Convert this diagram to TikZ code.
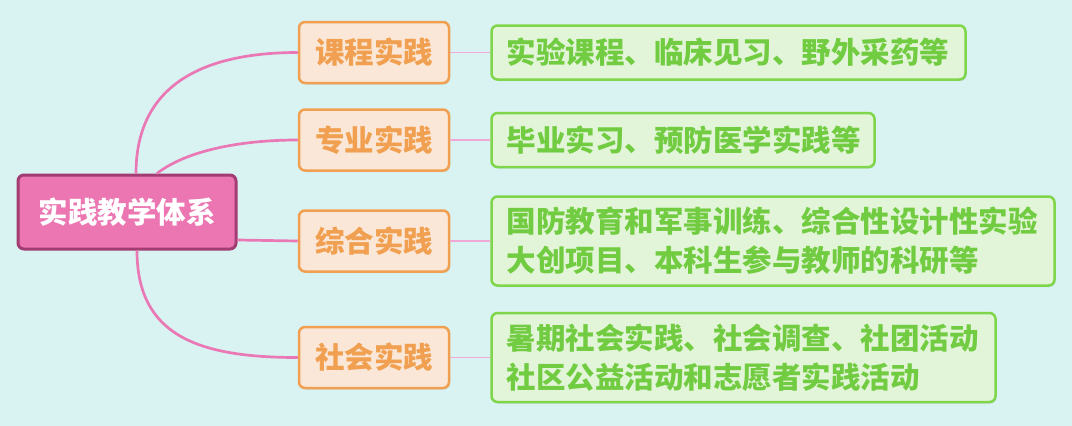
\documentclass[tikz,border=0pt]{standalone}
\usepackage{fontspec}
\newfontfamily\cjk{Noto Sans CJK SC}
\usepackage{tikz}
\usetikzlibrary{positioning,shadows}
\definecolor{bgcol}{HTML}{D8F3F2}
\definecolor{rootfill}{HTML}{EC76B1}
\definecolor{rootline}{HTML}{A23C72}
\definecolor{brfill}{HTML}{FBE7D7}
\definecolor{brline}{HTML}{F0A050}
\definecolor{lffill}{HTML}{E3F5D8}
\definecolor{lfline}{HTML}{7FD64A}
\definecolor{lftext}{HTML}{72CC42}
\definecolor{linkcol}{HTML}{EA78B5}
\definecolor{twigcol}{HTML}{F2A8D4}

\begin{document}
\begin{tikzpicture}[x=1pt,y=-1pt,font=\cjk\bfseries\fontsize{29.5}{39}\selectfont]
    \tikzstyle{topic}=[draw=rootline, fill=rootfill, line width=3pt, rounded corners=6pt, text=white, minimum width=218pt, minimum height=74pt]
    \tikzstyle{sub}=[draw=brline, fill=brfill, line width=2.5pt, rounded corners=6pt, text=brline, minimum width=150pt, minimum height=61pt, drop shadow={shadow xshift=1pt, shadow yshift=-1.5pt, opacity=.2}]
    \tikzstyle{detail}=[draw=lfline, fill=lffill, line width=2.5pt, rounded corners=6pt, text=lftext, inner xsep=15pt, align=left, minimum height=54pt, drop shadow={shadow xshift=1pt, shadow yshift=-1.5pt, opacity=.2}]
    \tikzstyle{link}=[draw=linkcol, line width=2.7pt]
    \tikzstyle{twig}=[draw=twigcol, line width=1.2pt]

    \fill[bgcol] (0,0) rectangle (1072,426);

    \node[topic] (system) at (127,212) {实践教学体系};
    \node[sub] (course) at (374,52.5) {课程实践};
    \node[sub] (major) at (374,140) {专业实践};
    \node[sub] (general) at (374,241) {综合实践};
    \node[sub] (social) at (374,357.5) {社会实践};

    \node[detail,right=40pt of course,text width=444pt] (coursex) {实验课程、临床见习、野外采药等};
    \node[detail,right=40pt of major,text width=353pt] (majorx) {毕业实习、预防医学实践等};
    \node[detail,right=40pt of general,text width=533pt,minimum height=89pt] (generalx) {国防教育和军事训练、综合性设计性实验\\大创项目、本科生参与教师的科研等};
    \node[detail,right=40pt of social,text width=474pt,minimum height=89pt] (socialx) {暑期社会实践、社会调查、社团活动\\社区公益活动和志愿者实践活动};

    \draw[link] ([xshift=9pt]system.north) .. controls +(0,-85) and +(-100,0) .. (course.west);
    \draw[link] ([xshift=30pt]system.north) .. controls +(28,-22) and +(-60,0) .. (major.west);
    \draw[link] ([yshift=-28pt]system.east) .. controls +(30,0) and +(-30,0) .. (general.west);
    \draw[link] ([xshift=10pt]system.south) .. controls +(0,85) and +(-100,0) .. (social.west);

    \draw[twig] (course.east) -- (coursex.west);
    \draw[twig] (major.east) -- (majorx.west);
    \draw[twig] (general.east) -- (generalx.west);
    \draw[twig] (social.east) -- (socialx.west);
\end{tikzpicture}
\end{document}
